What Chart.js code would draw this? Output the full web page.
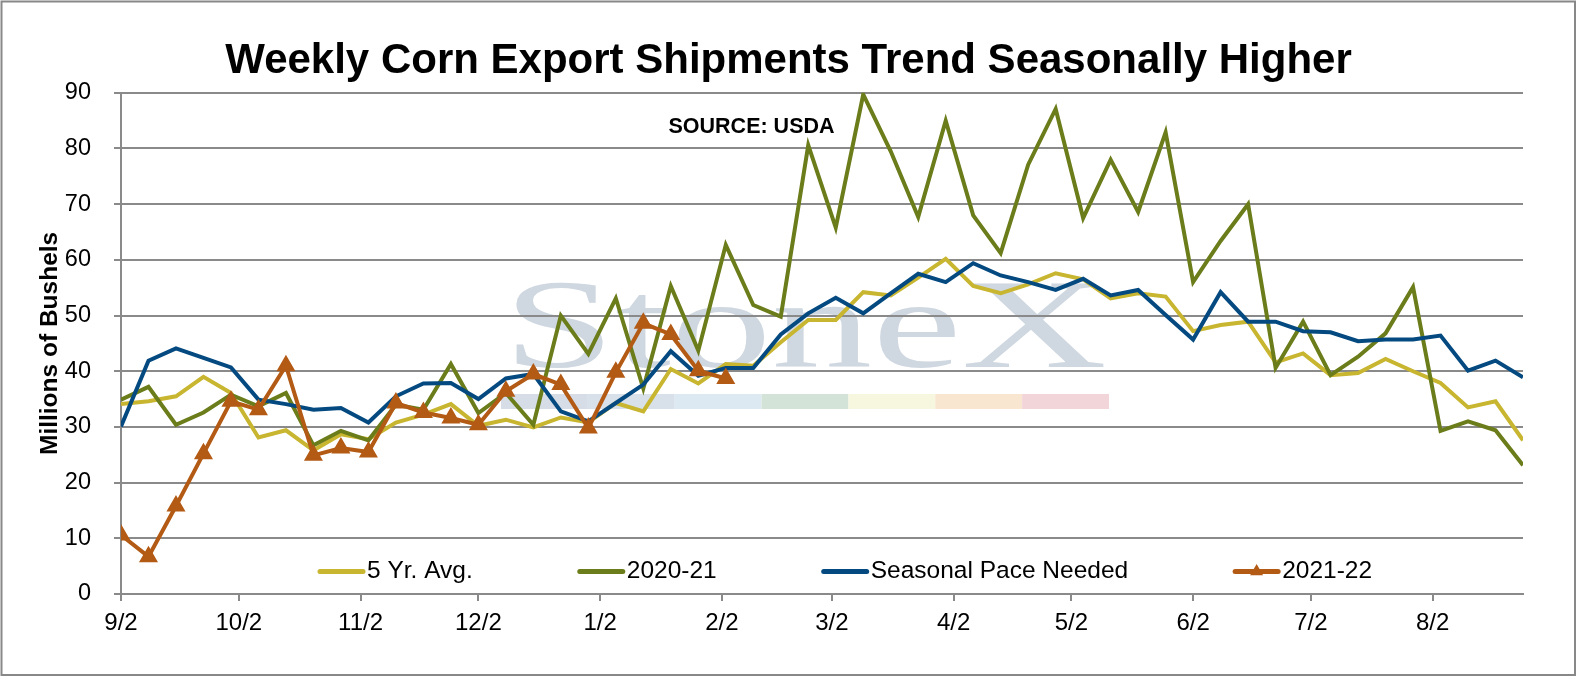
<!DOCTYPE html>
<html>
<head>
<meta charset="utf-8">
<script src="https://cdn.jsdelivr.net/npm/chart.js@4.4.1/dist/chart.umd.min.js"></script>
<style>
  html, body { margin: 0; padding: 0; background: #fff; }
  #wrap { width: 1577px; height: 677px; position: relative; }
</style>
</head>
<body>
<div id="wrap"><canvas id="chart"></canvas></div>
<script>
// x axis month ticks, in days from 9/2
const tickDays = [0, 30, 61, 91, 122, 153, 181, 212, 242, 273, 303, 334]
const tickLabels = ['9/2', '10/2', '11/2', '12/2', '1/2', '2/2', '3/2', '4/2', '5/2', '6/2', '7/2', '8/2']

// weekly values, millions of bushels
const fiveYrAvg = [34.1, 34.6, 35.5, 39.0, 36.1, 28.1, 29.4, 25.8, 28.7, 27.8, 30.8, 32.2, 34.1,
  30.2, 31.3, 29.9, 31.7, 30.8, 34.3, 32.8, 40.4, 37.8, 41.3, 41.0, 45.2, 49.2, 49.2,
  54.2, 53.6, 56.8, 60.2, 55.3, 54.0, 55.6, 57.6, 56.5, 53.1, 54.0, 53.4, 47.2, 48.3,
  48.9, 41.6, 43.2, 39.3, 39.7, 42.2, 40.0, 37.9, 33.5, 34.6, 27.6]

const y2020 = [34.9, 37.2, 30.4, 32.6, 35.8, 33.7, 36.1, 26.7, 29.3, 27.6, 34.0, 33.1, 41.3,
  32.5, 36.1, 30.4, 50.0, 43.1, 53.1, 36.9, 55.3, 43.7, 62.7, 51.9, 49.8, 80.6, 65.8,
  89.7, 79.5, 67.7, 85.0, 68.0, 61.2, 77.1, 87.1, 67.5, 78.0, 68.6, 82.9, 56.0, 63.4,
  70.0, 40.6, 48.9, 39.3, 42.6, 46.8, 55.1, 29.3, 31.0, 29.4, 23.1]

const paceNeeded = [30.1, 41.9, 44.1, 42.4, 40.7, 34.9, 34.1, 33.1, 33.4, 30.8, 35.5, 37.8, 37.9,
  35.0, 38.7, 39.5, 32.8, 31.0, 34.3, 37.6, 43.6, 39.2, 40.6, 40.6, 46.6, 50.4, 53.2,
  50.4, 54.0, 57.5, 56.0, 59.4, 57.2, 56.0, 54.6, 56.6, 53.6, 54.6, 50.1, 45.7, 54.2,
  48.9, 48.9, 47.2, 47.0, 45.4, 45.7, 45.7, 46.4, 40.1, 41.9, 38.9]

const y2021 = [10.6, 6.7, 15.8, 25.2, 34.6, 33.1, 41.0, 24.9, 26.2, 25.5, 34.3, 32.6, 31.6,
  30.4, 36.4, 39.5, 37.6, 29.8, 39.8, 48.6, 46.6, 40.1, 38.7]

const colors = {
  avg: '#c8b530',
  y2020: '#6b7c1a',
  pace: '#044a80',
  y2021: '#b35a14',
  grid: '#8a8a8a'
}

const FONT = '"Liberation Sans", Arial, sans-serif'
Chart.defaults.font.family = FONT
Chart.defaults.color = '#000'

const weekly = arr => arr.map((v, i) => ({ x: i * 7, y: v }))

const backdrop = {
  id: 'backdrop',
  beforeDraw(chart) {
    const { ctx } = chart
    ctx.save()
    // watermark
    ctx.font = '128px "Liberation Serif", "Times New Roman", serif'
    const w = ctx.measureText('StoneX').width
    ctx.translate(503, 367)
    ctx.scale(604 / w, 1)
    ctx.fillStyle = '#cfd7e0'
    ctx.textBaseline = 'alphabetic'
    ctx.fillText('StoneX', 0, 0)
    ctx.restore()

    ctx.save()
    const strip = ['#d6dde6', '#d8e0e9', '#dde9f2', '#d4e3d8', '#f7f6df', '#f9e6d0', '#f2d5d8']
    strip.forEach((c, i) => {
      ctx.fillStyle = c
      ctx.fillRect(501 + i * 86.86, 394, 86.86, 15)
    })
    ctx.restore()
  },
  afterDraw(chart) {
    const { ctx } = chart
    ctx.save()
    ctx.fillStyle = '#000'
    ctx.textAlign = 'center'
    ctx.textBaseline = 'alphabetic'
    ctx.font = 'bold 42px ' + FONT
    ctx.fillText('Weekly Corn Export Shipments Trend Seasonally Higher', 788.5, 73.3)
    ctx.font = 'bold 21.5px ' + FONT
    ctx.fillText('SOURCE: USDA', 751.5, 133.3)

    // legend inside the plot
    ctx.font = '24.5px ' + FONT
    ctx.textAlign = 'left'
    ctx.textBaseline = 'middle'
    let x = 320
    const y = 571.5
    chart.data.datasets.slice().sort((a, b) => a.legendIndex - b.legendIndex).forEach(ds => {
      ctx.strokeStyle = ds.borderColor
      ctx.lineWidth = 5
      ctx.lineCap = 'round'
      ctx.beginPath()
      ctx.moveTo(x, y)
      ctx.lineTo(x + 43, y)
      ctx.stroke()
      if (ds.pointRadius > 0) {
        const cx = x + 21.5, r = 7.5
        ctx.fillStyle = ds.borderColor
        ctx.beginPath()
        ctx.moveTo(cx, y - r)
        ctx.lineTo(cx + r * 0.866, y + r * 0.5)
        ctx.lineTo(cx - r * 0.866, y + r * 0.5)
        ctx.closePath()
        ctx.fill()
      }
      ctx.fillStyle = '#000'
      ctx.fillText(ds.label, x + 47, y)
      x += 47 + ctx.measureText(ds.label).width + 107
    })

    // outer frame
    ctx.strokeStyle = '#888'
    ctx.lineWidth = 2
    ctx.strokeRect(1.5, 1.5, 1573.5, 673.5)
    ctx.restore()
  }
}

new Chart(document.getElementById('chart'), {
  type: 'line',
  data: {
    datasets: [
      {
        label: '2021-22',
        data: weekly(y2021),
        borderColor: colors.y2021,
        backgroundColor: colors.y2021,
        borderWidth: 4,
        pointStyle: 'triangle',
        pointRadius: 9,
        pointBorderWidth: 2,
        order: 1,
        legendIndex: 3
      },
      {
        label: 'Seasonal Pace Needed',
        data: weekly(paceNeeded),
        borderColor: colors.pace,
        borderWidth: 4,
        pointRadius: 0,
        order: 2,
        legendIndex: 2
      },
      {
        label: '2020-21',
        data: weekly(y2020),
        borderColor: colors.y2020,
        borderWidth: 4,
        pointRadius: 0,
        order: 3,
        legendIndex: 1
      },
      {
        label: '5 Yr. Avg.',
        data: weekly(fiveYrAvg),
        borderColor: colors.avg,
        borderWidth: 4,
        pointRadius: 0,
        order: 4,
        legendIndex: 0
      }
    ]
  },
  options: {
    responsive: true,
    maintainAspectRatio: false,
    animation: false,
    devicePixelRatio: 1,
    layout: { padding: { left: 21, right: 54, top: 92.8, bottom: 33 } },
    plugins: {
      legend: { display: false },
      tooltip: { enabled: false },
      title: { display: false }
    },
    scales: {
      x: {
        type: 'linear',
        min: 0,
        max: 357,
        afterBuildTicks: scale => { scale.ticks = tickDays.map(v => ({ value: v })) },
        afterFit: scale => { scale.height = 50 },
        ticks: {
          autoSkip: false,
          maxRotation: 0,
          padding: 8,
          font: { size: 24 },
          color: '#000',
          callback: v => tickLabels[tickDays.indexOf(v)]
        },
        grid: { drawOnChartArea: false, tickLength: 7, color: colors.grid, lineWidth: 2 },
        border: { display: true, color: colors.grid, width: 2 }
      },
      y: {
        min: 0,
        max: 90,
        afterFit: scale => { scale.width = 100 },
        ticks: { stepSize: 10, padding: 23, font: { size: 23.5 }, color: '#000' },
        grid: { color: colors.grid, lineWidth: 2, tickLength: 7 },
        border: { display: true, color: colors.grid, width: 2 },
        title: {
          display: true,
          text: 'Millions of Bushels',
          font: { size: 24.5, weight: 'bold' },
          color: '#000',
          padding: { top: 15, bottom: 0 }
        }
      }
    }
  },
  plugins: [backdrop]
})
</script>
</body>
</html>
